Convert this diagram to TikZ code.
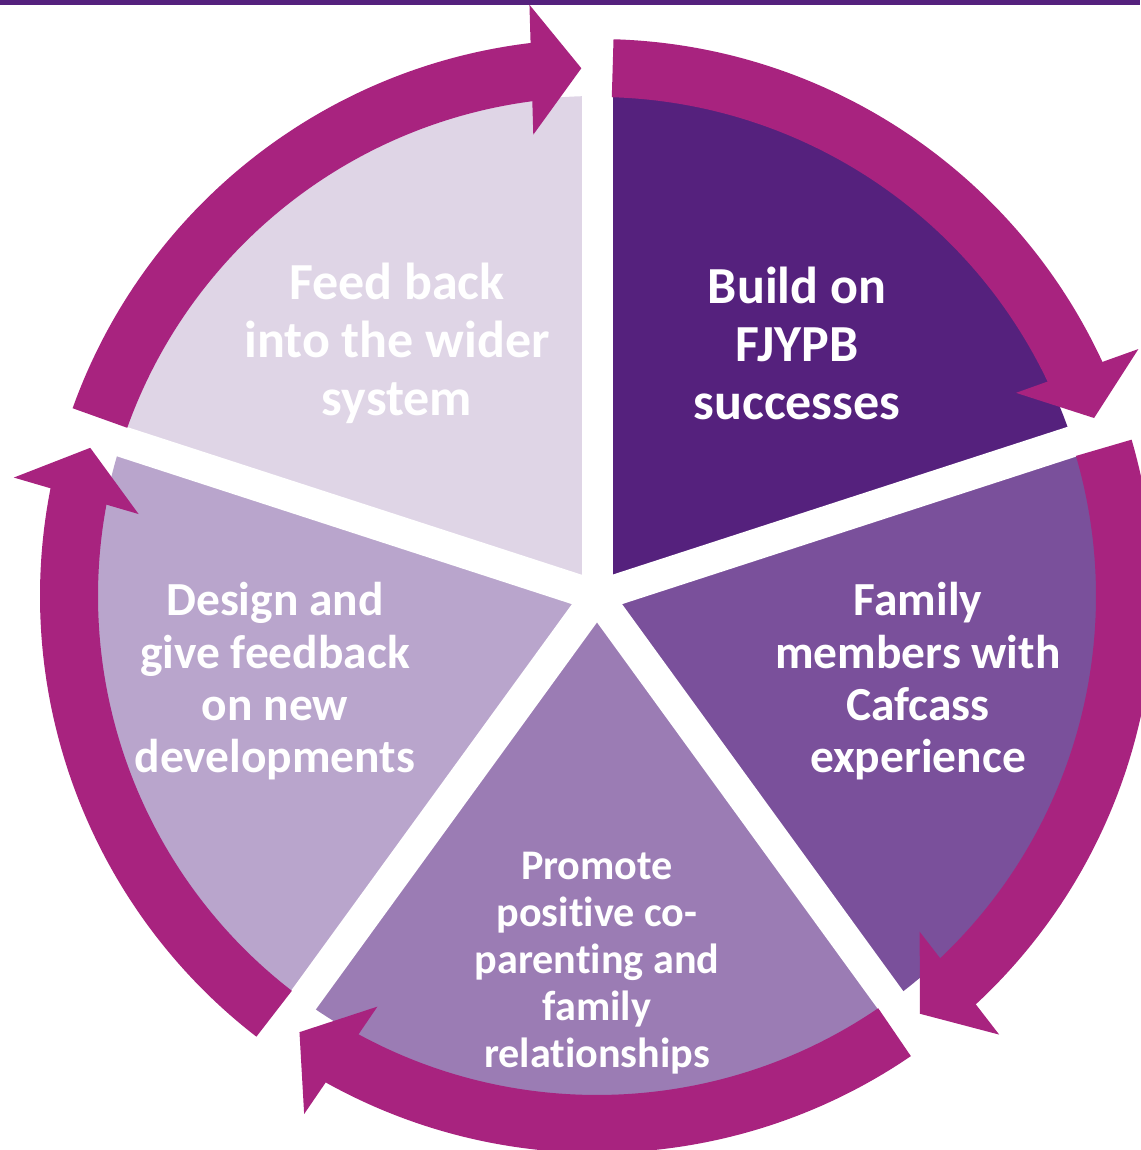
\documentclass[tikz,border=0pt]{standalone}
\usepackage{fontspec}
\setmainfont{Carlito}[Ligatures=NoCommon]
\usetikzlibrary{calc}

\definecolor{ringmagenta}{RGB}{168,35,127}
\definecolor{segone}{RGB}{85,33,125}
\definecolor{segtwo}{RGB}{122,80,155}
\definecolor{segthree}{RGB}{155,124,180}
\definecolor{segfour}{RGB}{185,165,204}
\definecolor{segfive}{RGB}{223,213,230}

\begin{document}
\begin{tikzpicture}[
    seglarge/.style={text=white, align=center, inner sep=0pt, font=\fontsize{14.8pt}{16.5pt}\selectfont\bfseries},
    segmid/.style={text=white, align=center, inner sep=0pt, font=\fontsize{13.5pt}{14.9pt}\selectfont\bfseries},
    segsmall/.style={text=white, align=center, inner sep=0pt, font=\fontsize{12pt}{13.4pt}\selectfont\bfseries},
    gap/.style={white, line width=3.1mm},
    ring/.style={fill=ringmagenta}
]
    \useasboundingbox (-5.97,-5.54) rectangle (5.43,5.96);
    \fill[segone] (-5.97,5.91) rectangle (5.43,5.96);

    \foreach \col [count=\i from 0] in {segone,segtwo,segthree,segfour,segfive}
        \fill[\col] (0,0) -- ({90-72*\i}:5) arc[start angle={90-72*\i}, end angle={18-72*\i}, radius=5] -- cycle;
    \foreach \i in {0,...,4}
        \draw[gap] (0,0) -- ({90-72*\i}:5.2);

    \foreach \i in {0,...,4} {
        \pgfmathsetmacro\s{90-72*\i-1.7}
        \pgfmathsetmacro\t{18-72*\i+1.7}
        \pgfmathsetmacro\e{\t+5}
        \pgfmathsetmacro\b{\t+90}
        \pgfmathsetmacro\n{\t+180}
        \path[ring] (\s:4.99) arc[start angle=\s, end angle=\e, radius=4.99]
            -- (\e:5.57) arc[start angle=\e, end angle=\s, radius=5.57] -- cycle;
        \coordinate (tip\i) at (\t:5.28);
        \path[ring] (tip\i) -- ($(tip\i)+(\b:0.5)+(\t:0.65)$) -- ($(tip\i)+(\b:0.5)+(\n:0.65)$) -- cycle;
    }

    \node[seglarge] (build) at (2.00,2.53) {Build on\\FJYPB\\successes};
    \node[seglarge] (feed) at (-2.00,2.53) {Feed back\\into the wider\\system};
    \node[segmid] (family) at (3.21,-0.855) {Family\\members with\\Cafcass\\experience};
    \node[segmid] (design) at (-3.22,-0.855) {Design and\\give feedback\\on new\\developments};
    \node[segsmall] (promote) at (0,-3.67) {Promote\\positive co-\\parenting and\\family\\relationships};
\end{tikzpicture}
\end{document}
